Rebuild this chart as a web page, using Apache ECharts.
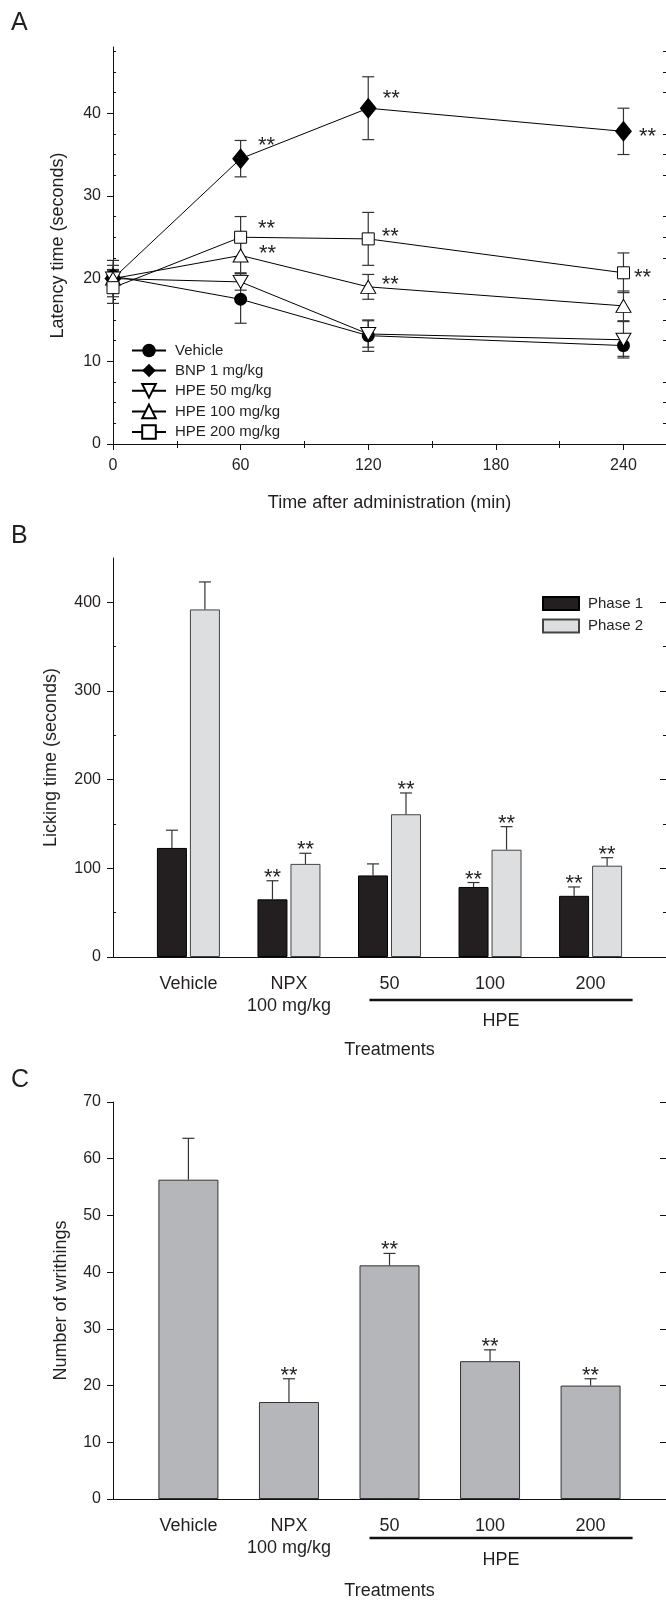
<!DOCTYPE html>
<html><head><meta charset="utf-8">
<script src="https://cdn.jsdelivr.net/npm/echarts@6/dist/echarts.min.js"></script>
<style>html,body{margin:0;padding:0;background:#fff}#c{width:666px;height:1601px}</style>
</head><body><div id="c"></div>
<script>
// ---------- Panel A: latency time (hot plate) ----------
const timesA = [0, 60, 120, 240];
const xTicksA = [0, 60, 120, 180, 240];
const xMinorA = [30, 90, 150, 210];
const yTicksA = [0, 10, 20, 30, 40];
const yMinorA = [2.5, 5, 7.5, 12.5, 15, 17.5, 22.5, 25, 27.5, 32.5, 35, 37.5, 42.5, 45, 47.5];
const namesA = ['Vehicle', 'BNP 1 mg/kg', 'HPE 50 mg/kg', 'HPE 100 mg/kg', 'HPE 200 mg/kg'];
const vehicleA = [20.3, 17.5, 13.1, 11.9];
const vehicleSemA = [0.8, 2.9, 1.9, 1.3];
const bnpA = [20.0, 34.5, 40.6, 37.8];
const bnpSemA = [2.2, 2.2, 3.8, 2.8];
const hpe50A = [20.0, 19.6, 13.3, 12.6];
const hpe50SemA = [1.6, 1.0, 1.6, 2.2];
const hpe100A = [20.0, 22.8, 19.0, 16.7];
const hpe100SemA = [1.0, 2.1, 1.5, 1.8];
const hpe200A = [18.9, 25.0, 24.8, 20.7];
const hpe200SemA = [1.9, 2.5, 3.2, 2.4];
// significance marks: [series index, time index]
const sigA = [[1, 1], [1, 2], [1, 3], [4, 1], [4, 2], [4, 3], [3, 1], [3, 2]];

// ---------- Panel B: licking time (formalin) ----------
const categoriesB = ['Vehicle', 'NPX\n100 mg/kg', '50', '100', '200'];
const yTicksB = [0, 100, 200, 300, 400];
const yMinorB = [50, 150, 250, 350];
const phase1 = [123, 65, 92, 79, 69];
const phase1Sem = [20, 21, 13, 5, 10];
const phase2 = [392, 105, 161, 121, 103];
const phase2Sem = [31, 12, 24, 26, 9];
const sigPhase1 = [false, true, false, true, true];
const sigPhase2 = [false, true, true, true, true];

// ---------- Panel C: writhings ----------
const categoriesC = ['Vehicle', 'NPX\n100 mg/kg', '50', '100', '200'];
const yTicksC = [0, 10, 20, 30, 40, 50, 60, 70];
const writhings = [56.3, 17.1, 41.2, 24.3, 20.0];
const writhingsSem = [7.3, 4.1, 2.1, 2.0, 1.2];
const sigC = [false, true, true, true, true];

const catPos = [1, 2, 3, 4, 5];

// ---------- styling ----------
const FONT = '"Liberation Sans", Arial, Helvetica, sans-serif';
const INK = '#231f20';
const AX = { lineStyle: { color: '#111', width: 1 } };
const STAR_FONT = '22px ' + FONT;
const starOffsetsA = [[26, -18], [23, -14], [24, 1], [26, -13], [22, -7], [19, 0], [27, -6], [22, -7]];
const BAR_OFF_B = 16.5;

const meansA = [vehicleA, bnpA, hpe50A, hpe100A, hpe200A];
const semsA = [vehicleSemA, bnpSemA, hpe50SemA, hpe100SemA, hpe200SemA];
const symbolsA = [
  { symbol: 'circle', symbolSize: 13, fill: '#000', rot: 0 },
  { symbol: 'diamond', symbolSize: [17, 21], fill: '#000', rot: 0 },
  { symbol: 'triangle', symbolSize: [15, 13], fill: '#fff', rot: 180 },
  { symbol: 'triangle', symbolSize: [15, 13], fill: '#fff', rot: 0 },
  { symbol: 'rect', symbolSize: 12, fill: '#fff', rot: 0 }
];

function hiddenAxis(extra) {
  return Object.assign({
    axisLine: { show: false }, axisLabel: { show: false }, splitLine: { show: false }
  }, extra);
}

function errRender(offsetPx, showStars) {
  return function (params, api) {
    const x = api.value(0), lo = api.value(1), hi = api.value(2), sig = api.value(3);
    const pLo = api.coord([x, lo]);
    const pHi = api.coord([x, hi]);
    const cx = pLo[0] + offsetPx;
    const w = 6;
    const st = { stroke: '#333', lineWidth: 1.2 };
    const ch = [
      { type: 'line', shape: { x1: cx, y1: pLo[1], x2: cx, y2: pHi[1] }, style: st },
      { type: 'line', shape: { x1: cx - w, y1: pHi[1], x2: cx + w, y2: pHi[1] }, style: st }
    ];
    if (!showStars) ch.push({ type: 'line', shape: { x1: cx - w, y1: pLo[1], x2: cx + w, y2: pLo[1] }, style: st });
    if (showStars && sig) {
      ch.push({ type: 'text', x: cx, y: pHi[1] - 3, style: { text: '**', fill: INK, font: STAR_FONT, textAlign: 'center', textVerticalAlign: 'middle' } });
    }
    return { type: 'group', children: ch };
  };
}

// ---------- build series ----------
const series = [];
namesA.forEach((n, si) => {
  const s = symbolsA[si];
  series.push({
    name: n, type: 'line', xAxisIndex: 0, yAxisIndex: 0, z: 3,
    data: timesA.map((t, i) => [t, meansA[si][i]]),
    symbol: s.symbol, symbolSize: s.symbolSize, symbolRotate: s.rot,
    color: '#000',
    lineStyle: { color: '#000', width: 1 },
    itemStyle: { color: s.fill, borderColor: '#000', borderWidth: s.fill === '#fff' ? 1 : 0 },
    clip: false
  });
});
const errDataA = [];
namesA.forEach((n, si) => timesA.forEach((t, i) => {
  errDataA.push([t, meansA[si][i] - semsA[si][i], meansA[si][i] + semsA[si][i], 0]);
}));
series.push({ type: 'custom', xAxisIndex: 0, yAxisIndex: 0, z: 1, data: errDataA, encode: { x: 0, y: [1, 2] }, renderItem: errRender(0, false), silent: true });
series.push({
  type: 'custom', xAxisIndex: 0, yAxisIndex: 0, z: 4, silent: true,
  data: sigA.map(([si, ti]) => [timesA[ti], meansA[si][ti]]),
  encode: { x: 0, y: 1 },
  renderItem: function (params, api) {
    const p = api.coord([api.value(0), api.value(1)]);
    const o = starOffsetsA[params.dataIndex];
    return { type: 'text', x: p[0] + o[0], y: p[1] + o[1] + 5, style: { text: '**', fill: INK, font: STAR_FONT, textAlign: 'center', textVerticalAlign: 'middle' } };
  }
});

// Panel B
series.push({
  name: 'Phase 1', type: 'bar', xAxisIndex: 3, yAxisIndex: 4, barWidth: 30, barGap: '10%',
  data: catPos.map((c, i) => [c, phase1[i]]),
  itemStyle: { color: '#231f20', borderColor: '#000', borderWidth: 1 }
});
series.push({
  name: 'Phase 2', type: 'bar', xAxisIndex: 3, yAxisIndex: 4, barWidth: 30, barGap: '10%',
  data: catPos.map((c, i) => [c, phase2[i]]),
  itemStyle: { color: '#dddee0', borderColor: '#444', borderWidth: 1 }
});
series.push({ type: 'custom', xAxisIndex: 3, yAxisIndex: 4, z: 3, silent: true,
  data: catPos.map((c, i) => [c, phase1[i], phase1[i] + phase1Sem[i], sigPhase1[i] ? 1 : 0]),
  encode: { x: 0, y: [1, 2] }, renderItem: errRender(-BAR_OFF_B, true) });
series.push({ type: 'custom', xAxisIndex: 3, yAxisIndex: 4, z: 3, silent: true,
  data: catPos.map((c, i) => [c, phase2[i], phase2[i] + phase2Sem[i], sigPhase2[i] ? 1 : 0]),
  encode: { x: 0, y: [1, 2] }, renderItem: errRender(BAR_OFF_B, true) });

// Panel C
series.push({
  name: 'Writhings', type: 'bar', xAxisIndex: 5, yAxisIndex: 8, barWidth: 60,
  data: catPos.map((c, i) => [c, writhings[i]]),
  itemStyle: { color: '#b5b6b9', borderColor: '#333', borderWidth: 1 }
});
series.push({ type: 'custom', xAxisIndex: 5, yAxisIndex: 8, z: 3, silent: true,
  data: catPos.map((c, i) => [c, writhings[i], writhings[i] + writhingsSem[i], sigC[i] ? 1 : 0]),
  encode: { x: 0, y: [1, 2] }, renderItem: errRender(0, true) });

const labelStyle = { fontSize: 16, color: INK, fontFamily: FONT };
const nameStyle = { fontSize: 18, color: INK, fontFamily: FONT };
const catLabel = (cats) => ({
  customValues: catPos, fontSize: 18, lineHeight: 22, color: INK, fontFamily: FONT, margin: 16,
  formatter: (v) => cats[Math.round(v) - 1]
});

const option = {
  animation: false,
  backgroundColor: '#fff',
  textStyle: { fontFamily: FONT },
  grid: [
    { left: 113, top: 47, width: 553, height: 397 },
    { left: 113, top: 558, width: 553, height: 399 },
    { left: 113, top: 1102, width: 553, height: 399 }
  ],
  legend: [
    { data: namesA, orient: 'vertical', left: 126, top: 338, itemWidth: 34, itemHeight: 17, itemGap: 5,
      textStyle: { fontSize: 15, color: INK, fontFamily: FONT, padding: [0, 0, 0, 4] } },
    { data: ['Phase 1', 'Phase 2'], orient: 'vertical', left: 537, top: 591, itemWidth: 36, itemHeight: 13, itemGap: 7.5, icon: 'rect',
      textStyle: { fontSize: 15, color: INK, fontFamily: FONT, padding: [0, 0, 0, 4] } }
  ],
  xAxis: [
    // A
    { gridIndex: 0, type: 'value', min: 0, max: 260, position: 'bottom', axisLine: AX, splitLine: { show: false },
      axisTick: { customValues: xTicksA, length: 6, lineStyle: { color: '#111' } },
      axisLabel: Object.assign({ customValues: xTicksA, margin: 14 }, labelStyle),
      name: 'Time after administration (min)', nameLocation: 'middle', nameGap: 50, nameTextStyle: nameStyle },
    hiddenAxis({ gridIndex: 0, type: 'value', min: 0, max: 260, position: 'bottom',
      axisTick: { customValues: xMinorA, inside: true, length: 3, lineStyle: { color: '#111' } } }),
    { gridIndex: 0, type: 'value', min: 0, max: 260, position: 'top', axisLine: AX, splitLine: { show: false }, axisLabel: { show: false },
      axisTick: { customValues: xMinorA, inside: true, length: 4, lineStyle: { color: '#111' } } },
    // B
    { gridIndex: 1, type: 'value', min: 0.25, max: 5.75, position: 'bottom', axisLine: AX, splitLine: { show: false },
      axisTick: { show: false }, axisLabel: catLabel(categoriesB),
      name: 'Treatments', nameLocation: 'middle', nameGap: 84, nameTextStyle: nameStyle },
    { gridIndex: 1, type: 'value', min: 0.25, max: 5.75, position: 'top', axisLine: AX, splitLine: { show: false },
      axisTick: { show: false }, axisLabel: { show: false } },
    // C
    { gridIndex: 2, type: 'value', min: 0.25, max: 5.75, position: 'bottom', axisLine: AX, splitLine: { show: false },
      axisTick: { show: false }, axisLabel: catLabel(categoriesC),
      name: 'Treatments', nameLocation: 'middle', nameGap: 83, nameTextStyle: nameStyle },
    { gridIndex: 2, type: 'value', min: 0.25, max: 5.75, position: 'top', axisLine: AX, splitLine: { show: false },
      axisTick: { show: false }, axisLabel: { show: false } }
  ],
  yAxis: [
    // A
    { gridIndex: 0, type: 'value', min: 0, max: 48, position: 'left', axisLine: Object.assign({ show: true }, AX), splitLine: { show: false },
      axisTick: { show: true, customValues: yTicksA, length: 6, lineStyle: { color: '#111' } },
      axisLabel: Object.assign({ customValues: yTicksA, margin: 12 }, labelStyle),
      name: 'Latency time (seconds)', nameLocation: 'middle', nameGap: 46, nameTextStyle: nameStyle },
    hiddenAxis({ gridIndex: 0, type: 'value', min: 0, max: 48, position: 'left',
      axisTick: { show: true, customValues: yMinorA, inside: true, length: 3, lineStyle: { color: '#111' } } }),
    hiddenAxis({ gridIndex: 0, type: 'value', min: 0, max: 48, position: 'right',
      axisTick: { show: true, customValues: yTicksA, inside: true, length: 6, lineStyle: { color: '#111' } } }),
    hiddenAxis({ gridIndex: 0, type: 'value', min: 0, max: 48, position: 'right',
      axisTick: { show: true, customValues: yMinorA, inside: true, length: 3, lineStyle: { color: '#111' } } }),
    // B
    { gridIndex: 1, type: 'value', min: 0, max: 450, position: 'left', axisLine: Object.assign({ show: true }, AX), splitLine: { show: false },
      axisTick: { show: true, customValues: yTicksB, length: 6, lineStyle: { color: '#111' } },
      axisLabel: Object.assign({ customValues: yTicksB, margin: 12 }, labelStyle),
      name: 'Licking time (seconds)', nameLocation: 'middle', nameGap: 53, nameTextStyle: nameStyle },
    hiddenAxis({ gridIndex: 1, type: 'value', min: 0, max: 450, position: 'left',
      axisTick: { show: true, customValues: yMinorB, inside: true, length: 3, lineStyle: { color: '#111' } } }),
    hiddenAxis({ gridIndex: 1, type: 'value', min: 0, max: 450, position: 'right',
      axisTick: { show: true, customValues: yTicksB, inside: true, length: 6, lineStyle: { color: '#111' } } }),
    hiddenAxis({ gridIndex: 1, type: 'value', min: 0, max: 450, position: 'right',
      axisTick: { show: true, customValues: yMinorB, inside: true, length: 3, lineStyle: { color: '#111' } } }),
    // C
    { gridIndex: 2, type: 'value', min: 0, max: 70, position: 'left', axisLine: Object.assign({ show: true }, AX), splitLine: { show: false },
      axisTick: { show: true, customValues: yTicksC, length: 6, lineStyle: { color: '#111' } },
      axisLabel: Object.assign({ customValues: yTicksC, margin: 12 }, labelStyle),
      name: 'Number of writhings', nameLocation: 'middle', nameGap: 43, nameTextStyle: nameStyle },
    hiddenAxis({ gridIndex: 2, type: 'value', min: 0, max: 70, position: 'right',
      axisTick: { show: true, customValues: yTicksC, inside: true, length: 6, lineStyle: { color: '#111' } } })
  ],
  series: series
};

const chart = echarts.init(document.getElementById('c'), null, { renderer: 'canvas' });
chart.setOption(option);

// panel letters and HPE brackets (annotation)
function bracket(xAxisIndex, axisY, lineDy, textDy) {
  const x1 = chart.convertToPixel({ xAxisIndex: xAxisIndex }, 3) - 20;
  const x2 = chart.convertToPixel({ xAxisIndex: xAxisIndex }, 5) + 42;
  return [
    { type: 'line', shape: { x1: x1, y1: axisY + lineDy, x2: x2, y2: axisY + lineDy }, style: { stroke: '#111', lineWidth: 2.5 } },
    { type: 'text', x: (x1 + x2) / 2, y: axisY + textDy, style: { text: 'HPE', fill: INK, font: '18px ' + FONT, textAlign: 'center', textVerticalAlign: 'middle' } }
  ];
}
const yB0 = chart.convertToPixel({ yAxisIndex: 4 }, 0);
const yC0 = chart.convertToPixel({ yAxisIndex: 8 }, 0);
const letters = [['A', 11], ['B', 524], ['C', 1068]].map(([t, y]) => ({
  type: 'text', left: 11, top: y, style: { text: t, fill: INK, font: '25px ' + FONT }
}));
chart.setOption({ graphic: letters.concat(bracket(3, yB0, 43, 64), bracket(5, yC0, 39, 61)) });
</script>
</body></html>
